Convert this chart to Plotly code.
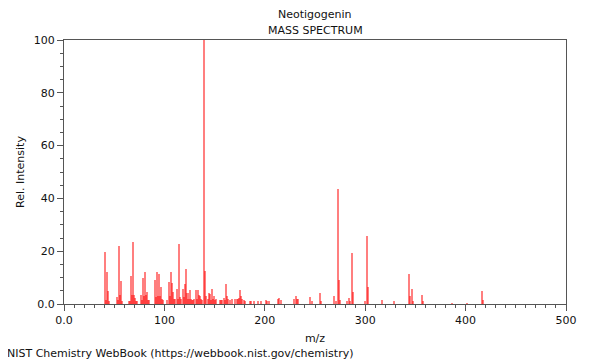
import plotly.graph_objects as go

mz = [41, 42, 43, 44, 45, 53, 54, 55, 56, 57, 58, 65, 66, 67, 68, 69, 70, 71, 72, 73,
      77, 78, 79, 80, 81, 82, 83, 84, 85, 91, 92, 93, 94, 95, 96, 97, 98, 99, 103,
      105, 106, 107, 108, 109, 110, 111, 113, 114, 115, 116, 117, 119, 120, 121, 122,
      123, 124, 125, 126, 127, 128, 129, 131, 132, 133, 134, 135, 136, 137, 139, 140,
      141, 143, 144, 145, 146, 147, 148, 149, 150, 151, 155, 156, 157, 159, 160, 161,
      162, 163, 165, 167, 170, 172, 173, 174, 175, 176, 177, 179, 180, 185, 186, 189,
      193, 196, 201, 202, 204, 213, 214, 216, 229, 231, 232, 233, 245, 247, 255, 256,
      269, 271, 273, 274, 275, 282, 284, 285, 287, 288, 300, 302, 303, 317, 329, 344,
      345, 347, 348, 357, 358, 386, 401, 416, 417]
intensity = [19.8, 1.5, 12.2, 4.9, 1.0, 2.8, 1.5, 22.0, 3.4, 8.7, 1.0, 1.1, 1.0, 10.5, 3.4, 23.4, 3.4, 2.3, 1.0, 1.0,
             3.4, 1.5, 9.7, 3.0, 12.1, 3.5, 4.7, 1.5, 1.5, 9.1, 2.5, 12.1, 3.0, 11.4, 3.0, 6.3, 2.0, 1.5, 1.5,
             8.2, 3.0, 12.1, 7.9, 4.7, 2.0, 2.0, 5.8, 2.0, 22.7, 2.5, 2.0, 5.7, 2.5, 7.6, 13.3,
             4.0, 2.0, 5.3, 2.0, 1.5, 1.5, 2.0, 5.3, 2.0, 5.3, 3.4, 3.0, 2.0, 1.5, 100.0, 12.6,
             3.0, 2.0, 4.0, 3.7, 1.5, 5.7, 2.0, 3.0, 1.5, 2.0, 1.5, 1.5, 1.5, 2.2, 1.5, 7.6,
             3.0, 2.0, 1.5, 2.0, 2.0, 2.0, 2.0, 2.2, 5.3, 3.0, 2.0, 1.5, 1.0, 1.0, 1.0, 1.0,
             1.0, 1.0, 1.5, 1.0, 1.0, 2.0, 2.3, 1.5, 2.0, 3.1, 2.0, 2.0, 2.5, 1.0, 4.3, 1.0,
             3.0, 1.0, 43.6, 9.1, 1.5, 1.0, 2.3, 1.0, 19.4, 4.5, 1.0, 25.8, 6.4, 1.5, 1.0, 11.4,
             3.0, 5.7, 1.0, 3.4, 1.0, 0.5, 0.5, 4.9, 1.5]

x_tickvals = [0, 100, 200, 300, 400, 500]
x_ticktext = ["0.0", "100", "200", "300", "400", "500"]
y_tickvals = [0, 20, 40, 60, 80, 100]
y_ticktext = ["0.0", "20", "40", "60", "80", "100"]

FONT = "DejaVu Sans"
W, H = 592, 352
ML, MR, MT, MB = 54, 34, 32, 56
BAR_COLOR = "rgba(255,0,0,0.5)"

fig = go.Figure()
fig.add_trace(go.Bar(x=mz, y=intensity, width=2.0,
                     marker=dict(color=BAR_COLOR, line=dict(width=0, color=BAR_COLOR))))

axis_common = dict(showgrid=False, zeroline=False, showline=True, linecolor="#555",
                   linewidth=1, mirror=True, ticks="outside", ticklen=6, tickcolor="#555",
                   tickfont=dict(family=FONT, size=11, color="#111"))

fig.update_xaxes(range=[0, 500], tickvals=x_tickvals, ticktext=x_ticktext,
                 title=dict(text="m/z", font=dict(family=FONT, size=11, color="#111"), standoff=8),
                 minor=dict(dtick=10, ticklen=3, ticks="outside", tickcolor="#555"),
                 **axis_common)
fig.update_yaxes(range=[0, 100], tickvals=y_tickvals, ticktext=y_ticktext,
                 title=dict(text="Rel. Intensity", font=dict(family=FONT, size=11, color="#111"), standoff=6),
                 minor=dict(dtick=5, ticklen=3, ticks="outside", tickcolor="#555"),
                 **axis_common)

plot_h = H - MT - MB
plot_w = W - ML - MR
def py(pix):
    return (H - MB - pix) / plot_h
def px(pix):
    return (pix - ML) / plot_w

fig.update_layout(
    width=W, height=H,
    margin=dict(l=ML, r=MR, t=MT, b=MB),
    plot_bgcolor="white", paper_bgcolor="white",
    showlegend=False, bargap=0, barmode="overlay",
    annotations=[
        dict(text="Neotigogenin", x=0.5, y=py(6), xref="paper", yref="paper", showarrow=False,
             yanchor="middle", font=dict(family=FONT, size=11, color="#111")),
        dict(text="MASS SPECTRUM", x=0.5, y=py(22), xref="paper", yref="paper", showarrow=False,
             yanchor="middle", font=dict(family=FONT, size=11, color="#111")),
        dict(text="NIST Chemistry WebBook (https://webbook.nist.gov/chemistry)", x=px(-5),
             y=py(345), xref="paper", yref="paper", showarrow=False, xanchor="left",
             yanchor="middle", font=dict(family=FONT, size=11, color="#111")),
    ],
)

fig.write_html("out.html")
